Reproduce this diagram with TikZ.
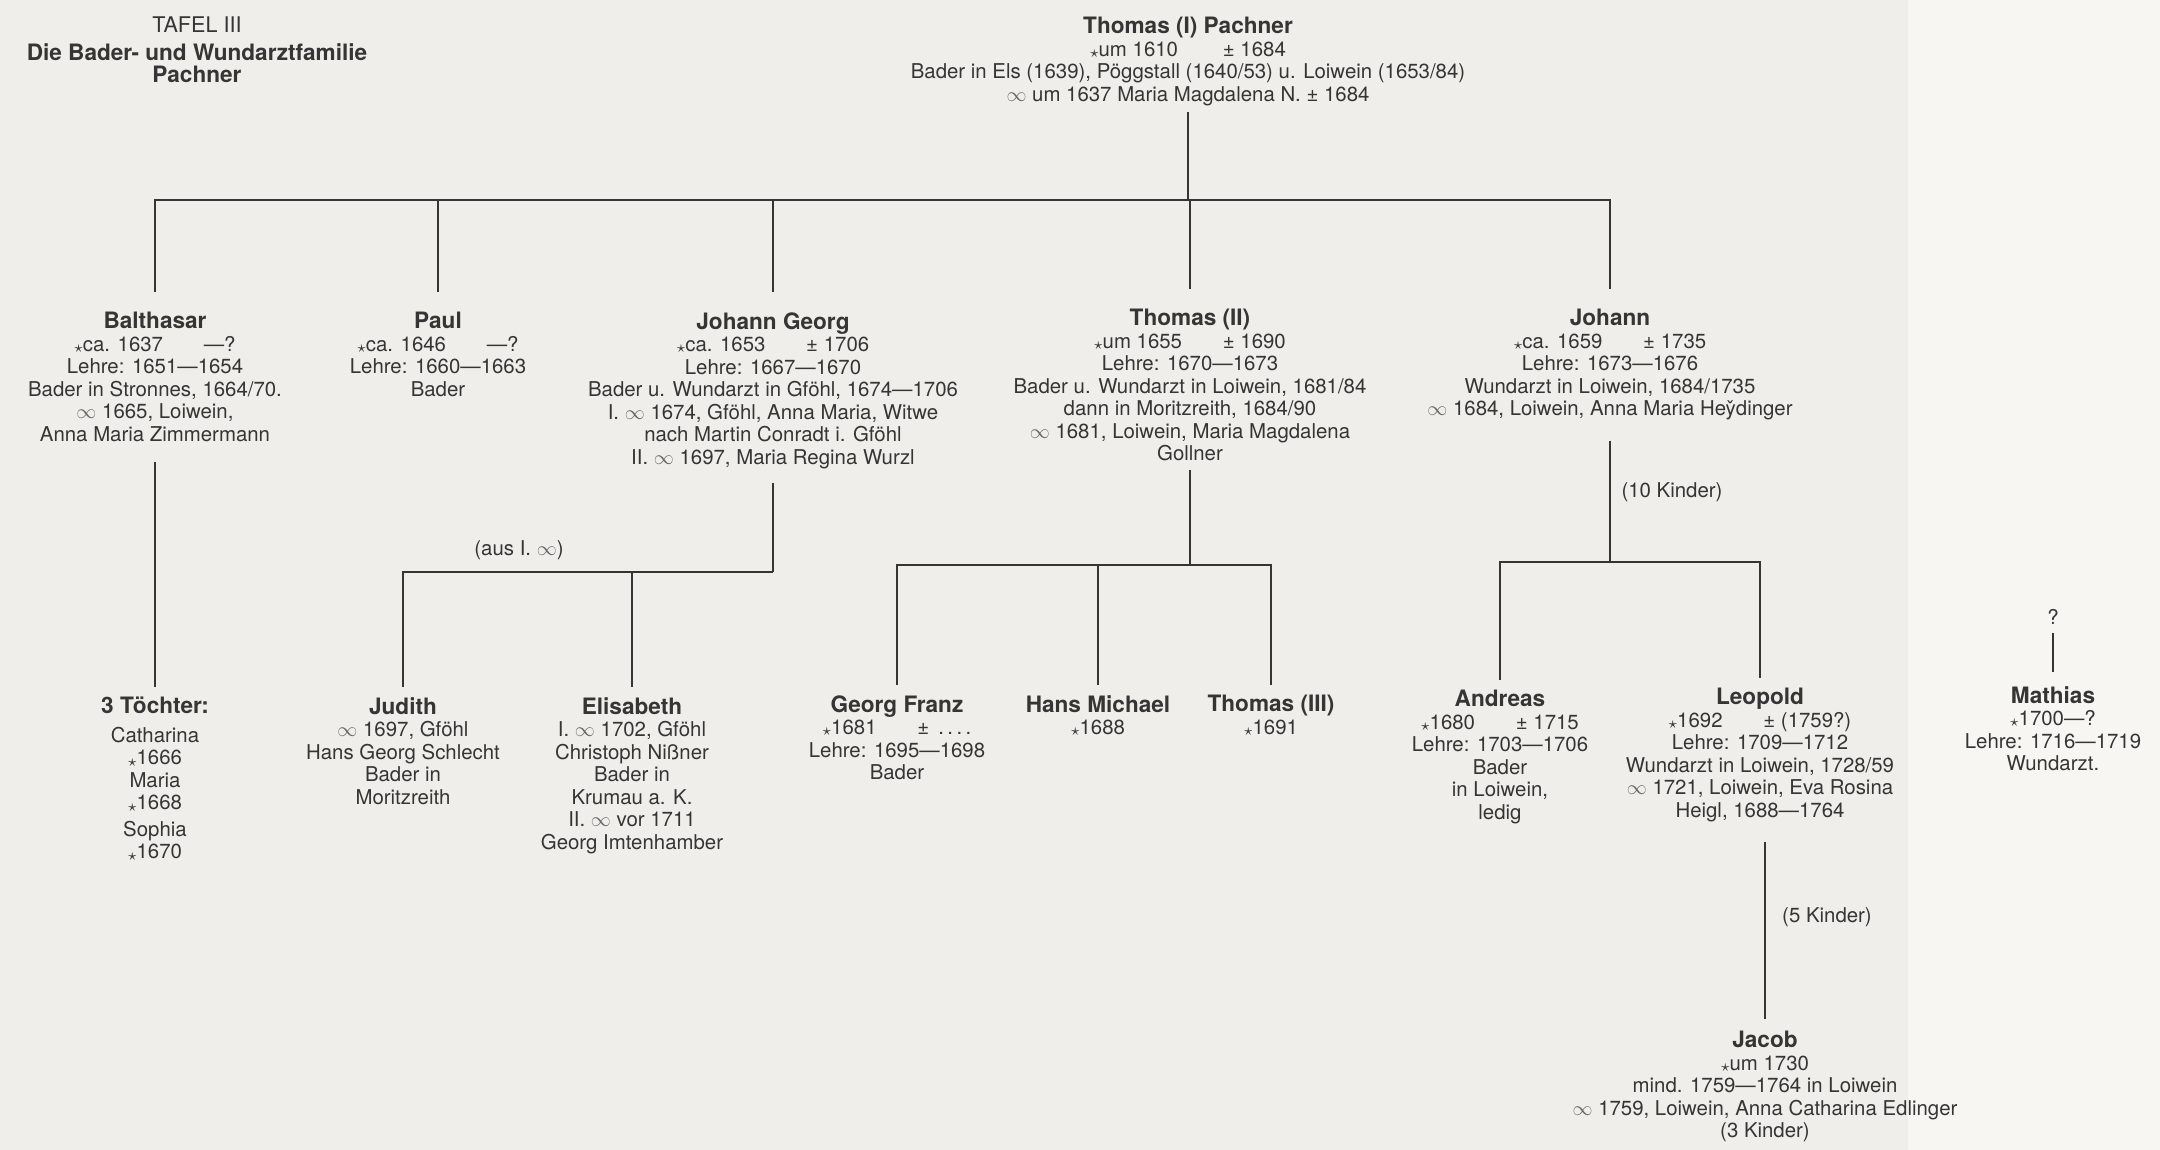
\documentclass[tikz,border=0pt]{standalone}
\usepackage{fontspec}
\setmainfont{TeX Gyre Heros}
\usetikzlibrary{positioning}
\definecolor{paper}{HTML}{F0EEEA}
\definecolor{paperlight}{HTML}{F7F6F3}
\definecolor{ink}{HTML}{363434}
\newcommand{\geb}{\raisebox{-0.1ex}{\footnotesize$\star$}}
\newcommand{\verh}{{\color{ink!75}$\infty$}}
\newcommand{\pname}[1]{{\fontsize{11.3}{11.25}\selectfont\bfseries #1}}

\begin{document}
\begin{tikzpicture}[
x=0.5pt,y=-0.5pt,
every node/.style={text=ink},
person/.style={align=center,anchor=north,inner sep=0pt,font=\fontsize{10.2}{11.25}\selectfont},
note/.style={inner sep=0pt,font=\fontsize{10.2}{11.25}\selectfont},
line/.style={draw=ink,line width=1pt}
]
\fill[paper] (0,0) rectangle (2160,1150);
\fill[paperlight] (1908,0) rectangle (2160,1150);
\useasboundingbox (0,0) rectangle (2160,1150);

\node[note,font=\fontsize{10.8}{11.25}\selectfont] (tafel) at (197,25) {TAFEL III};
\node[note,align=center,font=\fontsize{11.3}{11.25}\selectfont\bfseries] (titel) at (197,63) {Die Bader- und Wundarztfamilie\\Pachner};

\node[person] (thomasI) at (1188,17) {\pname{Thomas (I) Pachner}\\
  \geb um 1610\hspace{2.2em}± 1684\\
  Bader in Els (1639), Pöggstall (1640/53) u. Loiwein (1653/84)\\
  \verh{} um 1637 Maria Magdalena N. ± 1684};

\node[person] (balthasar) at (155,312) {\pname{Balthasar}\\
  \geb ca. 1637\hspace{2em}—?\\ Lehre: 1651—1654\\ Bader in Stronnes, 1664/70.\\
  \verh{} 1665, Loiwein,\\ Anna Maria Zimmermann};
\node[person] (paul) at (438,312) {\pname{Paul}\\
  \geb ca. 1646\hspace{2em}—?\\ Lehre: 1660—1663\\ Bader};
\node[person] (johanngeorg) at (773,312) {\pname{Johann Georg}\\
  \geb ca. 1653\hspace{2em}± 1706\\ Lehre: 1667—1670\\
  Bader u. Wundarzt in Gföhl, 1674—1706\\
  I. \verh{} 1674, Gföhl, Anna Maria, Witwe\\
  nach Martin Conradt i. Gföhl\\
  II. \verh{} 1697, Maria Regina Wurzl};
\node[person] (thomasII) at (1190,309) {\pname{Thomas (II)}\\
  \geb um 1655\hspace{2em}± 1690\\ Lehre: 1670—1673\\
  Bader u. Wundarzt in Loiwein, 1681/84\\
  dann in Moritzreith, 1684/90\\
  \verh{} 1681, Loiwein, Maria Magdalena\\ Gollner};
\node[person] (johann) at (1610,309) {\pname{Johann}\\
  \geb ca. 1659\hspace{2em}± 1735\\ Lehre: 1673—1676\\
  Wundarzt in Loiwein, 1684/1735\\
  \verh{} 1684, Loiwein, Anna Maria He\v{y}dinger};

\node[person] (toechter) at (155,697) {\pname{3 Töchter:}\\[3pt]
  Catharina\\ \geb 1666\\ Maria\\ \geb 1668\\[2pt] Sophia\\ \geb 1670};
\node[person] (judith) at (403,697) {\pname{Judith}\\
  \verh{} 1697, Gföhl\\ Hans Georg Schlecht\\ Bader in\\ Moritzreith};
\node[person] (elisabeth) at (632,697) {\pname{Elisabeth}\\
  I. \verh{} 1702, Gföhl\\ Christoph Nißner\\ Bader in\\ Krumau a. K.\\
  II. \verh{} vor 1711\\ Georg Imtenhamber};
\node[person] (georgfranz) at (897,695) {\pname{Georg Franz}\\
  \geb 1681\hspace{2em}± \,.\,.\,.\,.\\ Lehre: 1695—1698\\ Bader};
\node[person] (hansmichael) at (1098,695) {\pname{Hans Michael}\\ \geb 1688};
\node[person] (thomasIII) at (1271,695) {\pname{Thomas (III)}\\ \geb 1691};
\node[person] (andreas) at (1500,690) {\pname{Andreas}\\
  \geb 1680\hspace{2em}± 1715\\ Lehre: 1703—1706\\ Bader\\ in Loiwein,\\ ledig};
\node[person] (leopold) at (1760,688) {\pname{Leopold}\\
  \geb 1692\hspace{2em}± (1759?)\\ Lehre: 1709—1712\\
  Wundarzt in Loiwein, 1728/59\\
  \verh{} 1721, Loiwein, Eva Rosina\\ Heigl, 1688—1764};
\node[note] (unbekannt) at (2053,617) {?};
\node[person] (mathias) at (2053,686) {\pname{Mathias}\\
  \geb 1700—?\\ Lehre: 1716—1719\\ Wundarzt.};
\node[person] (jacob) at (1765,1031) {\pname{Jacob}\\
  \geb um 1730\\ mind. 1759—1764 in Loiwein\\
  \verh{} 1759, Loiwein, Anna Catharina Edlinger\\ (3 Kinder)};

\node[note] (ausI) at (519,550) {(aus I. \verh{})};
\node[note] (zehn) at (1672,492) {(10 Kinder)};
\node[note] (fuenf) at (1827,917) {(5 Kinder)};

\coordinate (fork1) at (1188,200);
\coordinate (fork2) at (773,572);
\coordinate (fork3) at (1190,565);
\coordinate (fork4) at (1610,562);

\draw[line,shorten <=3pt] (thomasI.south) -- (fork1);
\foreach \k in {balthasar,paul,johanngeorg,thomasII,johann}
  \draw[line,shorten >=10pt] (fork1) -| (\k.north);
\draw[line,shorten <=10pt,shorten >=5pt] (balthasar.south) -- (toechter.north);
\draw[line,shorten <=7pt] (johanngeorg.south) -- (fork2);
\foreach \k in {judith,elisabeth}
  \draw[line,shorten >=5pt] (fork2) -| (\k.north);
\draw[line,shorten <=4pt] (thomasII.south) -- (fork3);
\foreach \k in {georgfranz,hansmichael,thomasIII}
  \draw[line,shorten >=5pt] (fork3) -| (\k.north);
\draw[line,shorten <=10pt] (johann.south) -- (fork4);
\foreach \k in {andreas,leopold}
  \draw[line,shorten >=5pt] (fork4) -| (\k.north);
\draw[line,shorten <=10pt,shorten >=6pt] (jacob.north |- leopold.south) -- (jacob.north);
\draw[line,shorten <=4pt,shorten >=7pt] (unbekannt.south) -- (mathias.north);
\end{tikzpicture}
\end{document}
